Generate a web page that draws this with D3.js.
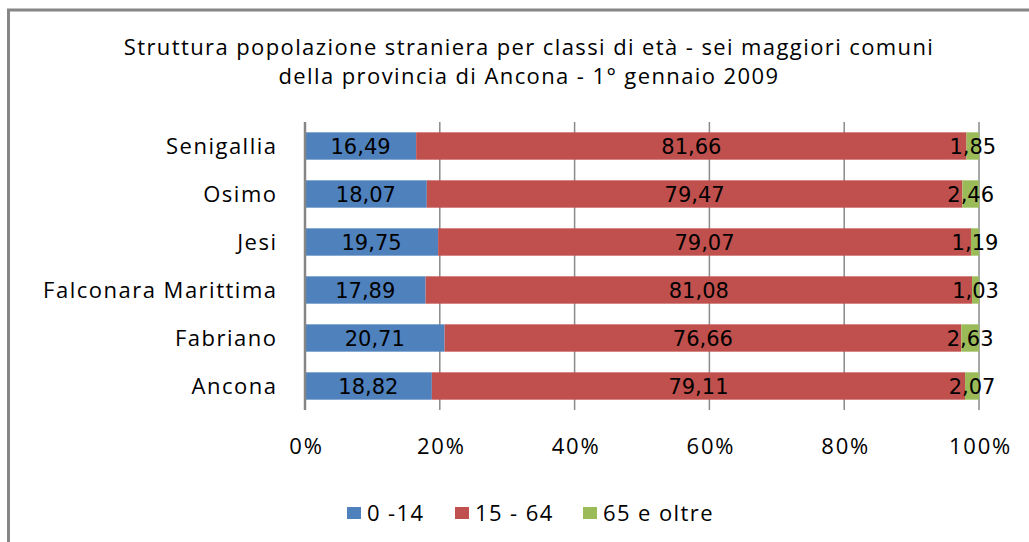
<!DOCTYPE html>
<html><head><meta charset="utf-8">
<script src="https://cdn.jsdelivr.net/npm/d3@7"></script>
<style>body{margin:0;background:#fff}svg{display:block}</style>
</head><body>
<svg id="c" width="1029" height="542"></svg>
<script>
const titleLines = ["Struttura popolazione straniera per classi di età - sei maggiori comuni", "della provincia di Ancona - 1° gennaio 2009"];
const categories = ["Senigallia", "Osimo", "Jesi", "Falconara Marittima", "Fabriano", "Ancona"];
const seriesNames = ["0 -14", "15 - 64", "65 e oltre"];
const age0_14 = [16.49, 18.07, 19.75, 17.89, 20.71, 18.82];
const age15_64 = [81.66, 79.47, 79.07, 81.08, 76.66, 79.11];
const age65plus = [1.85, 2.46, 1.19, 1.03, 2.63, 2.07];
const tickValues = [0, 20, 40, 60, 80, 100];
const colors = ["#4F81BD", "#C0504D", "#9BBB59"];

const svg = d3.select("#c");
const font = "'Open Sans', sans-serif";
const fmt = v => v.toFixed(2).replace(".", ",");

// frame
svg.append("rect").attr("x", 8.5).attr("y", 10).attr("width", 1040).attr("height", 560)
  .attr("fill", "#fff").attr("stroke", "#868686").attr("stroke-width", 3);

// title
svg.append("g").selectAll("text").data(titleLines).join("text")
  .attr("x", 529).attr("y", (d, i) => 55 + i * 29)
  .attr("text-anchor", "middle").attr("font-family", font).attr("font-size", 22)
  .attr("letter-spacing", 1.4).attr("fill", "#000").text(d => d);

const rows = categories.map((c, i) => ({cat: c, a: age0_14[i], b: age15_64[i], c65: age65plus[i]}));
const stack = d3.stack().keys(["a", "b", "c65"]).offset(d3.stackOffsetExpand)(rows);

const x = d3.scaleLinear().domain([0, 1]).range([305, 979]);
const y = d3.scaleBand().domain(categories).range([122, 410]).paddingInner(0.43).paddingOuter(0.215);

// gridlines
svg.append("g").selectAll("line").data(tickValues.slice(1)).join("line")
  .attr("x1", d => x(d / 100)).attr("x2", d => x(d / 100))
  .attr("y1", 122).attr("y2", 410).attr("stroke", "#8a8a8a").attr("stroke-width", 1.5);

// bars
const g = svg.append("g");
stack.forEach((s, si) => {
  g.append("g").attr("fill", colors[si]).selectAll("rect").data(s).join("rect")
    .attr("x", d => x(d[0])).attr("width", d => x(d[1]) - x(d[0]))
    .attr("y", d => y(d.data.cat)).attr("height", y.bandwidth());
});
// axis line at 0
svg.append("line").attr("x1", x(0)).attr("x2", x(0)).attr("y1", 122).attr("y2", 410)
  .attr("stroke", "#868686").attr("stroke-width", 2.5);

// data labels
const keys = ["a", "b", "c65"];
stack.forEach((s, si) => {
  g.append("g").selectAll("text").data(s).join("text")
    .attr("x", d => (x(d[0]) + x(d[1])) / 2)
    .attr("y", d => y(d.data.cat) + y.bandwidth() / 2)
    .attr("dy", "0.36em").attr("text-anchor", "middle")
    .attr("font-family", "'DejaVu Sans', sans-serif").attr("font-size", 21)
    .attr("fill", "#000").text(d => fmt(d.data[keys[si]]));
});

// category labels
svg.append("g").selectAll("text").data(categories).join("text")
  .attr("x", 277.5).attr("y", d => y(d) + y.bandwidth() / 2).attr("dy", "0.36em")
  .attr("text-anchor", "end").attr("font-family", font).attr("font-size", 22)
  .attr("letter-spacing", 1.5).attr("fill", "#000").text(d => d);

// x axis tick labels
const xAxis = d3.axisBottom(x).tickValues(tickValues.map(v => v / 100))
  .tickFormat(d => Math.round(d * 100) + "%").tickSize(0).tickPadding(0);
const ax = svg.append("g").attr("transform", "translate(0,446)").call(xAxis);
ax.select(".domain").remove();
ax.selectAll("text").attr("font-family", font).attr("font-size", 22).attr("fill", "#000")
  .attr("letter-spacing", 1.8).attr("dx", 1).attr("dy", "0.36em").attr("y", 0);

// legend
const legX = [347, 455, 583];
const leg = svg.append("g").selectAll("g").data(seriesNames).join("g")
  .attr("transform", (d, i) => `translate(${legX[i]},513)`);
leg.append("rect").attr("x", 0).attr("y", -6).attr("width", 14).attr("height", 12)
  .attr("fill", (d, i) => colors[i]);
leg.append("text").attr("x", 20).attr("y", 0).attr("dy", "0.36em")
  .attr("font-family", font).attr("font-size", 22).attr("letter-spacing", 1.4)
  .attr("fill", "#000").text(d => d);
</script>
</body></html>
